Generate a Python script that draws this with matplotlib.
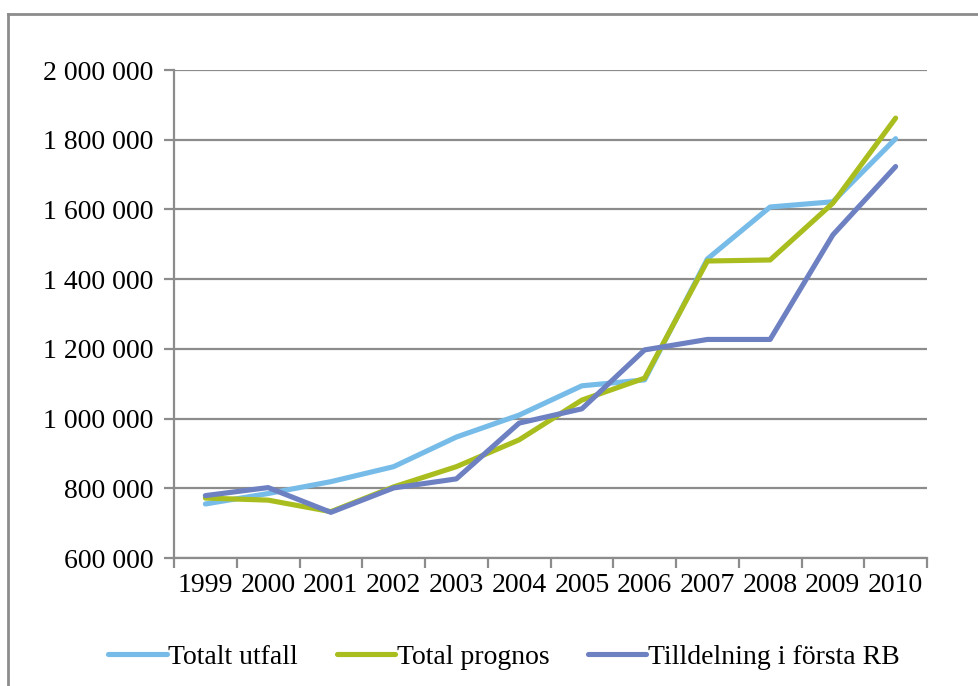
import matplotlib
matplotlib.use("Agg")
import matplotlib.pyplot as plt
from matplotlib.lines import Line2D
from matplotlib.ticker import FuncFormatter, FixedLocator

plt.rcParams['font.family'] = ['Liberation Serif', 'DejaVu Serif']

years = ['1999', '2000', '2001', '2002', '2003', '2004',
         '2005', '2006', '2007', '2008', '2009', '2010']
totalt_utfall = [755000, 785000, 819000, 862000, 947000, 1010000,
                 1094000, 1111000, 1458000, 1607000, 1622000, 1803000]
total_prognos = [772000, 766000, 733000, 804000, 862000, 939000,
                 1053000, 1116000, 1452000, 1455000, 1618000, 1862000]
tilldelning = [779000, 802000, 731000, 801000, 827000, 987000,
               1028000, 1197000, 1227000, 1227000, 1527000, 1723000]

c_utfall = '#77BCE8'
c_prognos = '#A9BE1E'
c_tilldel = '#6D80C2'
grid_c = '#8C8C8C'

fig = plt.figure(figsize=(9.79, 6.86), dpi=100)
ax = fig.add_axes([174/979, 1-558/686, (927-174)/979, (558-70)/686])

x = range(len(years))
lw = 3.7
ax.plot(x, totalt_utfall, color=c_utfall, lw=lw, label='Totalt utfall', solid_capstyle='round')
ax.plot(x, total_prognos, color=c_prognos, lw=lw, label='Total prognos', solid_capstyle='round')
ax.plot(x, tilldelning, color=c_tilldel, lw=lw, label='Tilldelning i första RB', solid_capstyle='round')

ax.set_xlim(-0.5, len(years) - 0.5)
ax.set_ylim(600000, 2000000)
ax.set_yticks(range(600000, 2000001, 200000))
ax.yaxis.set_major_formatter(FuncFormatter(lambda v, p: f'{int(v):,}'.replace(',', ' ')))
ax.yaxis.grid(True, color=grid_c, lw=1.6)
ax.set_axisbelow(True)

ax.xaxis.set_major_locator(FixedLocator([i - 0.5 for i in range(len(years) + 1)]))
ax.xaxis.set_minor_locator(FixedLocator(list(x)))
ax.set_xticklabels([], minor=False)
ax.set_xticklabels(years, minor=True)
ax.tick_params(axis='x', which='major', length=7, width=1.6, color=grid_c, direction='out')
ax.tick_params(axis='x', which='minor', length=0, pad=11, labelsize=20)
ax.tick_params(axis='y', length=7, width=1.6, color=grid_c, direction='out', pad=8, labelsize=20)

for s in ['top', 'right']:
    ax.spines[s].set_visible(False)
for s in ['left', 'bottom']:
    ax.spines[s].set_color(grid_c)
    ax.spines[s].set_linewidth(1.6)

ax.legend(loc='center', bbox_to_anchor=(504/979, 1-657/686), bbox_transform=fig.transFigure,
          ncol=3, frameon=False, fontsize=20, handlelength=2.1, handletextpad=0.05,
          columnspacing=1.4)

# outer chart border
fig.add_artist(Line2D([8.5/979, 8.5/979], [0, 1-14/686], color=grid_c, lw=2))
fig.add_artist(Line2D([8.5/979, 1], [1-14/686, 1-14/686], color=grid_c, lw=2))

fig.savefig('out.png', dpi=100)
